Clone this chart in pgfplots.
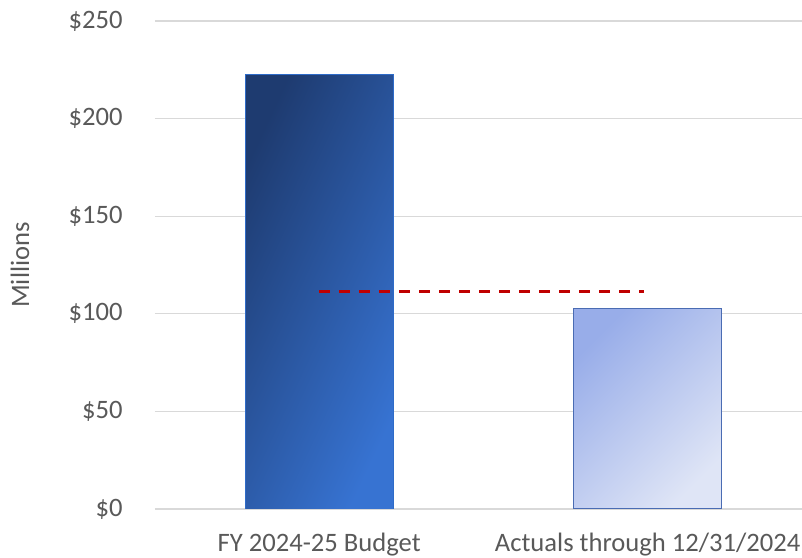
\documentclass[border=0pt]{standalone}
\usepackage{fontspec}
\setmainfont{Carlito}
\usepackage{pgfplots}
\pgfplotsset{compat=1.18}
\definecolor{txt}{HTML}{595959}
\definecolor{gridc}{HTML}{D9D9D9}
\definecolor{baraA}{HTML}{1E3B70}
\definecolor{baraB}{HTML}{3773D2}
\definecolor{baraE}{HTML}{2E6BC8}
\definecolor{barbA}{HTML}{98ADE9}
\definecolor{barbB}{HTML}{DFE5F6}
\definecolor{barbE}{HTML}{4A6CB3}
\definecolor{dashred}{HTML}{C00000}
\begin{document}
\begin{tikzpicture}
\begin{axis}[
  name=ax,
  scale only axis, width=323.5bp, height=244bp,
  xmin=-0.5, xmax=1.47, ymin=0, ymax=250,
  ytick={0,50,100,150,200,250},
  xtick={0,1},
  xticklabels={FY 2024-25 Budget, Actuals through 12/31/2024},
  yticklabel={\$\pgfmathprintnumber{\tick}},
  /pgf/number format/assume math mode=true,
  tick style={draw=none},
  major tick length=0pt,
  axis line style={draw=none},
  ymajorgrids,
  grid style={draw=gridc, line width=0.6bp},
  tick label style={font=\fontsize{13.3bp}{16bp}\selectfont, text=txt},
  yticklabel style={anchor=east, inner sep=0pt, xshift=-16bp},
  xticklabel style={anchor=base, inner sep=0pt, yshift=-21bp},
  ylabel={Millions},
  ylabel style={at={(axis description cs:-0.2087,0.5)}, anchor=center, rotate=0, font=\fontsize{13.3bp}{16bp}\selectfont, text=txt},
]
\addplot[ybar, bar width=74bp, bar shift=0pt, draw=baraE, line width=0.5bp,
  top color=baraA, bottom color=baraB, shading angle=65] coordinates {(0,222.5)};
\addplot[ybar, bar width=74bp, bar shift=0pt, draw=barbE, line width=0.6bp,
  top color=barbA, bottom color=barbB, shading angle=45] coordinates {(1,102.8)};
\addplot[dashred, line width=1.5bp, dash pattern=on 5.5bp off 4.5bp, mark=none] coordinates {(0,111.2) (0.99,111.2)};
\end{axis}
\pgfresetboundingbox
\path ([xshift=-77.5bp,yshift=-24.5bp]ax.south west) rectangle ([yshift=10.5bp]ax.north east);
\end{tikzpicture}
\end{document}
